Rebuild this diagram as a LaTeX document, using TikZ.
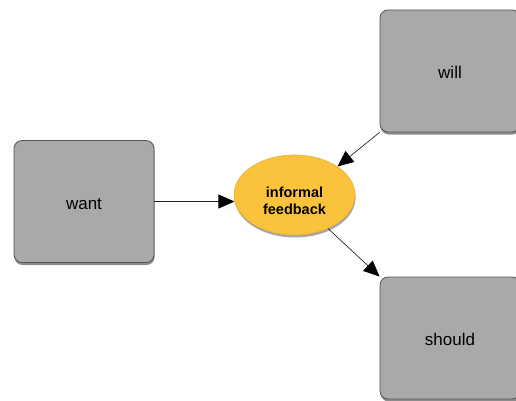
\documentclass[tikz,border=0pt]{standalone}
\usepackage{fontspec}
\setmainfont{Liberation Sans}
\usetikzlibrary{arrows.meta,shadows,shapes.geometric}
\definecolor{boxfill}{HTML}{A9A9A9}
\definecolor{boxline}{HTML}{555555}
\definecolor{ovalfill}{HTML}{FBC33C}
\definecolor{ovalline}{HTML}{E9AE2A}
\tikzset{
  wordbox/.style={draw=boxline, line width=0.8pt, fill=boxfill, rounded corners=8pt,
    minimum width=140pt, minimum height=122pt, inner sep=0pt,
    drop shadow={shadow xshift=0.6pt, shadow yshift=-2.5pt, opacity=0.45, fill=black}},
  wordtext/.style={font=\fontsize{17}{20}\selectfont, inner sep=0pt},
  oval/.style={ellipse, draw=ovalline, line width=0.6pt, fill=ovalfill,
    minimum width=121pt, minimum height=80pt, inner sep=0pt,
    drop shadow={shadow xshift=0.6pt, shadow yshift=-2.5pt, opacity=0.35, fill=black}},
  ovaltext/.style={align=center, inner sep=0pt,
    font=\fontsize{14.5}{17.5}\selectfont\bfseries},
  link/.style={draw=black!85, line width=0.7pt,
    -{Triangle[length=16pt,width=14pt,color=black]}}
}
\begin{document}
\begin{tikzpicture}[x=1pt,y=-1pt]
  \useasboundingbox (0,0) rectangle (516,401);
  % the three word boxes and the central oval (right boxes run off the edge)
  \begin{scope}
    \clip (0,0) rectangle (516,401);
    \node[wordbox] (want) at (84,201.5) {};
    \node[wordbox] (will) at (450,71) {};
    \node[wordbox] (should) at (450,338) {};
    \node[oval] (fb) at (294.5,195) {};
  \end{scope}
  \node[wordtext] (wanttext) at ([yshift=-2.5pt]want.center) {want};
  \node[wordtext] (willtext) at ([yshift=-1pt]will.center) {will};
  \node[wordtext] (shouldtext) at ([yshift=-1.5pt]should.center) {should};
  \node[ovaltext] (fbtext) at ([yshift=-6pt]fb.center) {informal\\feedback};
  % connectors
  \draw[link] (want.east) -- (want.east -| fb.186);
  \draw[link] (will.south west) -- (fb.north east);
  \draw[link] (fb.-45) -- (should.north west);
\end{tikzpicture}
\end{document}
